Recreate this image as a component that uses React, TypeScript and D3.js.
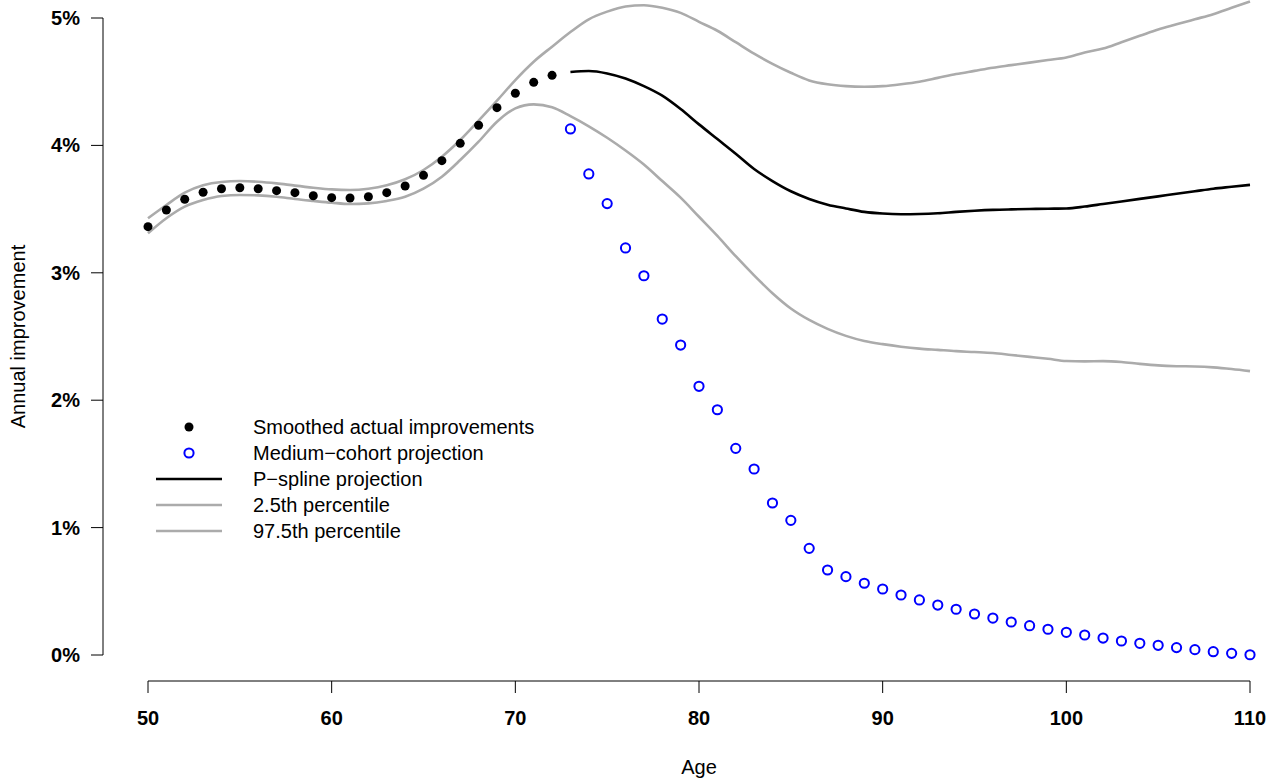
import React from "react";
import * as d3 from "d3";

const actualAges = d3.range(50, 73);
const actualValues = [
  3.362, 3.493, 3.577, 3.632, 3.66, 3.668, 3.66, 3.645, 3.629, 3.605, 3.59, 3.587,
  3.597, 3.629, 3.681, 3.765, 3.88, 4.016, 4.158, 4.296, 4.409, 4.495, 4.55,
];

const projAges = d3.range(73, 111);
const cohortValues = [
  4.129, 3.776, 3.543, 3.195, 2.977, 2.637, 2.433, 2.109, 1.925, 1.622, 1.46, 1.193,
  1.057, 0.837, 0.667, 0.615, 0.563, 0.518, 0.471, 0.432, 0.392, 0.359, 0.322, 0.29,
  0.259, 0.23, 0.202, 0.178, 0.157, 0.133, 0.11, 0.092, 0.076, 0.058, 0.042, 0.026,
  0.013, 0.002,
];
const psplineValues = [
  4.576, 4.584, 4.565, 4.525, 4.465, 4.39, 4.285, 4.165, 4.05, 3.935, 3.815, 3.72,
  3.64, 3.58, 3.535, 3.505, 3.478, 3.465, 3.46, 3.462, 3.468, 3.478, 3.487, 3.494,
  3.498, 3.501, 3.503, 3.505, 3.52, 3.54, 3.56, 3.58, 3.6, 3.62, 3.64, 3.66, 3.675,
  3.69,
];

const bandAges = d3.range(50, 111);
const lowerValues = [
  3.31, 3.428, 3.519, 3.571, 3.603, 3.611, 3.608, 3.597, 3.579, 3.564, 3.55, 3.54,
  3.545, 3.564, 3.597, 3.66, 3.754, 3.885, 4.029, 4.186, 4.291, 4.322, 4.299,
  4.23, 4.15, 4.06, 3.96, 3.85, 3.72, 3.59, 3.44, 3.29, 3.13, 2.98, 2.84, 2.72, 2.63,
  2.56, 2.505, 2.465, 2.44, 2.42, 2.405, 2.395, 2.385, 2.378, 2.37, 2.355, 2.34, 2.325,
  2.308, 2.305, 2.307, 2.3, 2.285, 2.273, 2.267, 2.265, 2.258, 2.245, 2.228,
];
const upperValues = [
  3.428, 3.532, 3.629, 3.687, 3.713, 3.72, 3.715, 3.702, 3.684, 3.668, 3.655, 3.65,
  3.66, 3.687, 3.734, 3.807, 3.911, 4.042, 4.194, 4.351, 4.513, 4.657, 4.775,
  4.89, 4.99, 5.05, 5.09, 5.1, 5.08, 5.04, 4.97, 4.9, 4.81, 4.72, 4.64, 4.57, 4.51,
  4.48, 4.465, 4.46, 4.465, 4.48, 4.5, 4.53, 4.56, 4.585, 4.61, 4.63, 4.65, 4.67,
  4.69, 4.73, 4.76, 4.81, 4.86, 4.91, 4.95, 4.99, 5.03, 5.08, 5.13,
];

const xTicks = [50, 60, 70, 80, 90, 100, 110];
const yTicks = [0, 1, 2, 3, 4, 5];
const legendLabels = [
  "Smoothed actual improvements",
  "Medium\u2212cohort projection",
  "P\u2212spline projection",
  "2.5th percentile",
  "97.5th percentile",
];

const W = 1272;
const H = 778;
const GRAY = "#ababab";
const BLUE = "#0000ff";
const FONT = "'Liberation Sans', Arial, Helvetica, sans-serif";
const FS = 20;

export default function App() {
  const x = d3.scaleLinear().domain([50, 110]).range([148, 1250]);
  const y = d3.scaleLinear().domain([0, 5]).range([655, 18]);
  const line = d3
    .line<[number, number]>()
    .x((d) => x(d[0]))
    .y((d) => y(d[1]))
    .curve(d3.curveMonotoneX);

  const zip = (a: number[], b: number[]) => a.map((v, i) => [v, b[i]] as [number, number]);

  const lx1 = 156;
  const lx2 = 222;
  const lcx = 189;
  const ltx = 253;
  const ly0 = 427;
  const lstep = 26;

  return (
    <svg
      width={W}
      height={H}
      style={{ position: "absolute", left: 0, top: 0, background: "#fff" }}
      fontFamily={FONT}
    >
      <rect x={0} y={0} width={W} height={H} fill="#fff" />
      {/* bands */}
      <path d={line(zip(bandAges, lowerValues)) || ""} fill="none" stroke={GRAY} strokeWidth={2.6} />
      <path d={line(zip(bandAges, upperValues)) || ""} fill="none" stroke={GRAY} strokeWidth={2.6} />
      {/* p-spline */}
      <path d={line(zip(projAges, psplineValues)) || ""} fill="none" stroke="#000" strokeWidth={2.6} />
      {/* actual */}
      {actualAges.map((a, i) => (
        <circle key={"a" + a} cx={x(a)} cy={y(actualValues[i])} r={4.5} fill="#000" />
      ))}
      {/* cohort */}
      {projAges.map((a, i) => (
        <circle
          key={"c" + a}
          cx={x(a)}
          cy={y(cohortValues[i])}
          r={4.6}
          fill="none"
          stroke={BLUE}
          strokeWidth={2}
        />
      ))}

      {/* y axis */}
      <line x1={103} x2={103} y1={y(0)} y2={y(5)} stroke="#000" strokeWidth={1} />
      {yTicks.map((t) => (
        <g key={"y" + t}>
          <line x1={91} x2={103} y1={y(t)} y2={y(t)} stroke="#000" strokeWidth={1} />
          <text
            x={80}
            y={y(t)}
            textAnchor="end"
            dominantBaseline="central"
            fontSize={FS}
            fontWeight="bold"
          >
            {t + "%"}
          </text>
        </g>
      ))}
      <text
        transform={`translate(18, ${y(2.5)}) rotate(-90)`}
        textAnchor="middle"
        dominantBaseline="central"
        fontSize={FS}
      >
        Annual improvement
      </text>

      {/* x axis */}
      <line x1={x(50)} x2={x(110)} y1={681} y2={681} stroke="#000" strokeWidth={1} />
      {xTicks.map((t) => (
        <g key={"x" + t}>
          <line x1={x(t)} x2={x(t)} y1={681} y2={693} stroke="#000" strokeWidth={1} />
          <text
            x={x(t)}
            y={718}
            textAnchor="middle"
            dominantBaseline="central"
            fontSize={FS}
            fontWeight="bold"
          >
            {t}
          </text>
        </g>
      ))}
      <text x={699} y={767} textAnchor="middle" dominantBaseline="central" fontSize={FS}>
        Age
      </text>

      {/* legend */}
      <circle cx={lcx} cy={ly0} r={4.5} fill="#000" />
      <circle cx={lcx} cy={ly0 + lstep} r={4.6} fill="none" stroke={BLUE} strokeWidth={2} />
      <line x1={lx1} x2={lx2} y1={ly0 + 2 * lstep} y2={ly0 + 2 * lstep} stroke="#000" strokeWidth={2.6} />
      <line x1={lx1} x2={lx2} y1={ly0 + 3 * lstep} y2={ly0 + 3 * lstep} stroke={GRAY} strokeWidth={2.6} />
      <line x1={lx1} x2={lx2} y1={ly0 + 4 * lstep} y2={ly0 + 4 * lstep} stroke={GRAY} strokeWidth={2.6} />
      {legendLabels.map((l, i) => (
        <text
          key={l}
          x={ltx}
          y={ly0 + i * lstep}
          dominantBaseline="central"
          fontSize={FS}
        >
          {l}
        </text>
      ))}
    </svg>
  );
}
